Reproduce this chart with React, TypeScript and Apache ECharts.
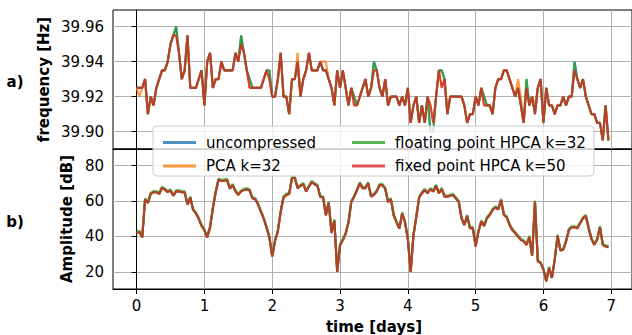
import React, { useEffect, useRef } from "react";
import * as echarts from "echarts";

// hourly samples, time axis in days
const SAMPLES_PER_DAY = 24;

const seriesNames = [
  "uncompressed",
  "PCA k=32",
  "floating point HPCA k=32",
  "fixed point HPCA k=50",
];
const seriesColors = ["#1f77b4", "#ff7f0e", "#2ca02c", "#d62728"];

const xTicks = [0, 1, 2, 3, 4, 5, 6, 7];
const freqTicks = [39.9, 39.92, 39.94, 39.96];
const ampTicks = [20, 40, 60, 80];

// frequency [Hz], fixed point HPCA k=50
const freqFixed = [
  39.925, 39.925, 39.925, 39.93, 39.91, 39.92, 39.915, 39.925, 39.93, 39.935, 39.935, 39.94,
  39.95, 39.955, 39.955, 39.945, 39.93, 39.935, 39.955, 39.925, 39.925, 39.925, 39.93, 39.935,
  39.915, 39.94, 39.945, 39.925, 39.93, 39.93, 39.94, 39.935, 39.935, 39.935, 39.935, 39.945,
  39.94, 39.95, 39.945, 39.935, 39.925, 39.925, 39.925, 39.925, 39.925, 39.93, 39.935, 39.93,
  39.92, 39.92, 39.93, 39.945, 39.92, 39.92, 39.91, 39.93, 39.93, 39.94, 39.92, 39.93,
  39.935, 39.945, 39.935, 39.935, 39.935, 39.94, 39.935, 39.935, 39.93, 39.925, 39.915, 39.935,
  39.925, 39.935, 39.925, 39.915, 39.925, 39.915, 39.915, 39.92, 39.925, 39.93, 39.92, 39.925,
  39.935, 39.935, 39.925, 39.92, 39.93, 39.915, 39.92, 39.92, 39.92, 39.915, 39.92, 39.915,
  39.925, 39.905, 39.915, 39.92, 39.905, 39.915, 39.905, 39.92, 39.915, 39.905, 39.92, 39.935,
  39.925, 39.93, 39.91, 39.92, 39.92, 39.92, 39.92, 39.92, 39.915, 39.905, 39.91, 39.91,
  39.92, 39.915, 39.925, 39.915, 39.915, 39.915, 39.91, 39.925, 39.93, 39.93, 39.935, 39.935,
  39.93, 39.925, 39.92, 39.925, 39.915, 39.905, 39.925, 39.915, 39.92, 39.91, 39.925, 39.93,
  39.905, 39.925, 39.915, 39.915, 39.91, 39.915, 39.915, 39.92, 39.915, 39.92, 39.92, 39.935,
  39.93, 39.925, 39.93, 39.92, 39.915, 39.91, 39.91, 39.905, 39.905, 39.895, 39.915, 39.895,
];

// samples where the other reconstructions differ (hour index, value)
const freqFloatingDiffs: [number, number][] = [
  [14, 39.96], [37, 39.955], [40, 39.93], [47, 39.935], [77, 39.92], [84, 39.94],
  [104, 39.9], [105, 39.9], [108, 39.935], [123, 39.92], [138, 39.93], [155, 39.94],
];
const freqPcaDiffs: [number, number][] = [
  [1, 39.92], [57, 39.945], [66, 39.94], [67, 39.94], [135, 39.93], [136, 39.92], [141, 39.915],
];

// amplitude [dB], fixed point HPCA k=50
const ampFixed = [
  42, 42.5, 39.5, 61, 59, 64, 65, 65, 64, 67.5, 66.5, 65,
  66, 63, 65.5, 65.5, 65, 65, 58, 62, 55, 53, 50, 46,
  43.5, 39.5, 45, 56, 65, 72, 71.5, 71.5, 72, 67, 69, 65.5,
  63.5, 65.5, 66.3, 66.7, 66, 61.6, 61, 58, 54, 50, 45, 39.5,
  28.7, 37.5, 43, 54, 62, 63.5, 64, 73, 73, 67.3, 68.6, 69.5,
  65.4, 68.2, 70.7, 69.5, 68.6, 62.5, 62, 52, 59, 42, 49, 20,
  35, 38, 41.5, 48, 59.5, 62.5, 66, 70, 67.3, 67.3, 70, 62.5,
  63.5, 65.5, 69, 69, 67, 59.5, 61, 52, 48, 44.4, 53, 48,
  38.7, 20, 40.6, 51, 62, 64.4, 66.3, 64.4, 66.7, 65.4, 68.6, 64.4,
  66.7, 62.5, 62.5, 63, 63.4, 61.5, 59.6, 50.3, 46.5, 51.6, 44.7, 44.7,
  34.4, 42.8, 48.4, 46, 50.3, 52.1, 55, 56.4, 55.3, 60.6, 52.1, 50.8,
  46.5, 43.7, 41.9, 40, 38.1, 37.2, 35.3, 39.6, 29.1, 59.6, 26, 25,
  21.3, 14.7, 22.2, 16.6, 26.9, 40.4, 32.1, 32.5, 37.2, 43.7, 45.2, 45.2,
  44.7, 47.5, 50.3, 51.6, 44.7, 38.5, 35.3, 38.1, 45.2, 35.3, 34.4, 34,
];

const withDiffs = (base: number[], diffs: [number, number][]) => {
  const out = base.slice();
  diffs.forEach(([i, v]) => (out[i] = v));
  return out;
};
const toPairs = (vals: number[]) => vals.map((v, i) => [i / SAMPLES_PER_DAY, v]);

const FONT = "DejaVu Sans";

export default function App() {
  const ref = useRef<HTMLDivElement>(null);
  useEffect(() => {
    if (!ref.current) return;
    const chart = echarts.init(ref.current, null, { renderer: "svg" });

    const freqFloating = withDiffs(freqFixed, freqFloatingDiffs);
    const freqPca = withDiffs(freqFixed, freqPcaDiffs);
    const freqSets = [freqFloating, freqPca, freqFloating, freqFixed];
    const ampSets = [ampFixed, ampFixed, ampFixed, ampFixed];

    const series: any[] = [];
    [0, 1].forEach((panel) => {
      const sets = panel === 0 ? freqSets : ampSets;
      seriesNames.forEach((name, k) => {
        const s: any = {
          name,
          type: "line",
          xAxisIndex: panel,
          yAxisIndex: panel,
          data: toPairs(sets[k]),
          showSymbol: false,
          symbol: "none",
          lineStyle: { width: 2.1, color: seriesColors[k], opacity: 0.8 },
          itemStyle: { color: seriesColors[k] },
          z: 2 + k,
        };
        if (panel === 1 && k === 2) {
          s.lineStyle.shadowColor = "rgba(44,160,44,0.9)";
          s.lineStyle.shadowOffsetY = -1.2;
          s.lineStyle.shadowBlur = 0;
        }
        series.push(s);
      });
    });

    const yAxisCommon = {
      type: "value",
      axisLine: { show: true, lineStyle: { color: "#000", width: 1 } },
      axisTick: { show: true, length: 5, lineStyle: { color: "#000", width: 1 } },
      splitLine: { show: true, lineStyle: { color: "#b0b0b0", width: 1 } },
    };

    chart.setOption({
      animation: false,
      grid: [
        { left: 113, right: -2, top: 10, height: 139, show: true, borderColor: "#000", borderWidth: 1, backgroundColor: "transparent" },
        { left: 113, right: -2, top: 149, height: 140, show: true, borderColor: "#000", borderWidth: 1, backgroundColor: "transparent" },
      ],
      xAxis: [0, 1].map((panel) => ({
        type: "value",
        gridIndex: panel,
        min: -0.348,
        max: 7.306,
        axisLine: { show: true, lineStyle: { color: "#000", width: 1 } },
        axisTick: { show: panel === 1, length: 5, customValues: xTicks, lineStyle: { color: "#000" } },
        axisLabel: {
          show: panel === 1,
          customValues: xTicks,
          fontSize: 15,
          fontFamily: FONT,
          color: "#000",
          margin: 9,
        },
        splitLine: { show: true, lineStyle: { color: "#b0b0b0", width: 1 } },
      })),
      yAxis: [
        {
          ...yAxisCommon,
          gridIndex: 0,
          min: 39.8901,
          max: 39.9695,
          axisTick: { ...yAxisCommon.axisTick, customValues: freqTicks },
          axisLabel: {
            customValues: freqTicks,
            formatter: (v: number) => v.toFixed(2),
            fontSize: 15,
            fontFamily: FONT,
            color: "#000",
            margin: 9,
          },
        },
        {
          ...yAxisCommon,
          gridIndex: 1,
          min: 10.35,
          max: 89.4,
          axisTick: { ...yAxisCommon.axisTick, customValues: ampTicks },
          axisLabel: {
            customValues: ampTicks,
            fontSize: 15,
            fontFamily: FONT,
            color: "#000",
            margin: 9,
          },
        },
      ],
      legend: [
        { data: seriesNames.slice(0, 2), left: 158 },
        { data: seriesNames.slice(2, 4), left: 347 },
      ].map((l) => ({
        ...l,
        top: 128.5,
        orient: "vertical",
        icon: "rect",
        itemWidth: 33,
        itemHeight: 3,
        itemGap: 5.5,
        selectedMode: false,
        z: 110,
        itemStyle: { opacity: 0.8 },
        textStyle: { fontSize: 15, fontFamily: FONT, color: "#000", lineHeight: 18, padding: [0, 0, 0, 5] },
      })),
      graphic: [
        {
          type: "rect",
          z: 100,
          shape: { x: 153, y: 126, width: 441, height: 50, r: 4 },
          style: { fill: "rgba(255,255,255,0.8)", stroke: "#cccccc", lineWidth: 1 },
        },
        {
          type: "text",
          x: 44,
          y: 79.5,
          rotation: Math.PI / 2,
          style: { text: "frequency [Hz]", font: `bold 15px '${FONT}'`, fill: "#000", align: "center", verticalAlign: "middle" },
        },
        {
          type: "text",
          x: 67,
          y: 219,
          rotation: Math.PI / 2,
          style: { text: "Amplitude [dB]", font: `bold 15px '${FONT}'`, fill: "#000", align: "center", verticalAlign: "middle" },
        },
        {
          type: "text",
          x: 374,
          y: 327,
          style: { text: "time [days]", font: `bold 15px '${FONT}'`, fill: "#000", align: "center", verticalAlign: "middle" },
        },
        {
          type: "text",
          x: 15,
          y: 82,
          style: { text: "a)", font: `bold 15px '${FONT}'`, fill: "#000", align: "center", verticalAlign: "middle" },
        },
        {
          type: "text",
          x: 15,
          y: 222,
          style: { text: "b)", font: `bold 15px '${FONT}'`, fill: "#000", align: "center", verticalAlign: "middle" },
        },
      ],
      series,
    });
    return () => chart.dispose();
  }, []);

  return (
    <div
      ref={ref}
      style={{ position: "absolute", left: 0, top: 0, width: 632, height: 335, overflow: "hidden", background: "#fff" }}
    />
  );
}
